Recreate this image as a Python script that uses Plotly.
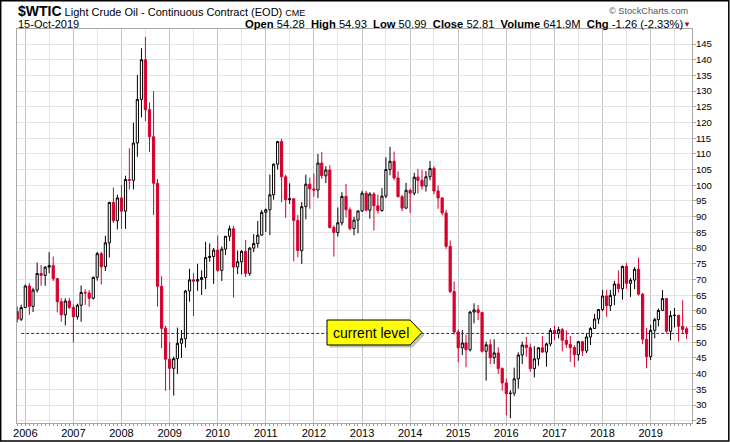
import pandas as pd
import plotly.graph_objects as go

# monthly OHLC, $WTIC continuous contract, Nov 2005 .. Oct 2019
opens = [
    59.76, 57.32,
    61.04, 67.92, 61.41, 66.63, 71.88, 71.29, 73.93, 74.40, 70.26, 62.91, 58.73, 63.13,
    61.05, 58.14, 61.79, 65.87, 65.71, 64.01, 70.68, 78.21, 74.04, 81.66, 94.53, 88.71,
    95.98, 91.75, 101.84, 101.58, 113.46, 127.35, 140.00, 124.08, 115.46, 100.64, 67.81, 54.43,
    44.60, 41.68, 44.76, 49.66, 51.12, 66.31, 69.89, 69.45, 69.96, 70.61, 77.00, 77.28,
    79.36, 72.89, 79.66, 83.76, 86.15, 73.97, 75.63, 78.95, 71.92, 79.97, 81.43, 84.11,
    91.38, 92.19, 96.97, 106.72, 113.93, 102.70, 95.42, 95.70, 88.81, 79.20, 93.19, 100.36,
    98.83, 98.48, 107.07, 103.02, 104.87, 86.53, 84.96, 88.06, 96.47, 92.19, 86.24, 88.91,
    91.82, 97.49, 92.05, 97.23, 93.46, 91.97, 96.56, 105.03, 107.65, 102.33, 96.38, 92.72,
    98.42, 97.49, 102.59, 101.58, 99.74, 102.71, 105.37, 98.17, 95.96, 91.16, 80.54, 66.15,
    53.27, 48.24, 49.76, 47.60, 59.63, 60.30, 59.47, 47.12, 49.20, 45.09, 46.59, 41.65,
    37.04, 33.62, 33.75, 38.34, 45.92, 49.10, 48.33, 41.60, 44.70, 48.24, 46.86, 49.44,
    53.72, 52.81, 54.01, 50.60, 49.33, 48.32, 46.04, 50.17, 47.23, 51.67, 54.38, 57.40,
    60.42, 64.73, 61.64, 64.94, 68.57, 67.04, 74.15, 68.76, 69.80, 73.25, 65.31, 50.93,
    45.41, 53.79, 57.22, 60.14, 63.91, 53.50, 58.47, 58.58, 55.10, 54.28,
]
highs = [
    61.36, 61.94,
    68.35, 68.89, 67.40, 75.35, 74.61, 74.25, 78.70, 77.30, 70.50, 64.10, 64.00, 64.15,
    62.00, 62.30, 68.09, 66.90, 66.60, 70.90, 78.77, 78.80, 83.90, 94.74, 99.29, 97.00,
    100.09, 103.05, 111.80, 119.93, 135.09, 143.67, 147.27, 126.40, 130.00, 102.00, 71.00, 55.20,
    50.00, 45.40, 54.66, 53.90, 66.65, 73.38, 71.98, 75.00, 72.91, 82.00, 81.48, 80.00,
    83.95, 80.51, 83.85, 87.15, 87.00, 79.22, 79.34, 82.50, 80.33, 84.44, 88.63, 92.06,
    92.58, 103.41, 106.95, 114.00, 114.83, 103.40, 100.62, 95.90, 90.52, 94.65, 103.37, 102.44,
    103.74, 109.95, 110.55, 106.06, 106.43, 87.20, 92.94, 97.80, 100.42, 92.99, 89.98, 91.92,
    98.24, 98.24, 97.80, 97.80, 97.00, 99.10, 108.93, 112.24, 110.74, 104.44, 96.94, 100.75,
    98.80, 104.00, 105.22, 104.99, 104.52, 107.73, 106.07, 99.86, 96.16, 92.21, 82.41, 69.36,
    54.00, 53.90, 52.48, 59.90, 62.40, 61.88, 59.78, 50.20, 50.90, 50.92, 48.36, 42.02,
    38.39, 34.69, 41.90, 46.78, 50.21, 51.67, 49.59, 48.75, 48.34, 51.93, 49.90, 54.51,
    55.24, 54.94, 54.55, 53.76, 52.00, 49.03, 50.43, 50.40, 52.86, 54.84, 59.05, 60.51,
    66.66, 66.66, 66.66, 69.56, 72.90, 74.46, 75.27, 70.41, 73.91, 76.90, 65.72, 54.55,
    55.55, 57.81, 60.73, 66.60, 64.00, 59.96, 60.94, 58.76, 63.38, 54.93,
]
lows = [
    56.30, 56.75,
    60.90, 58.70, 59.60, 65.80, 68.00, 68.00, 72.00, 69.50, 59.52, 56.55, 55.35, 60.60,
    49.90, 57.20, 56.50, 61.90, 61.30, 63.60, 69.60, 68.40, 72.70, 77.00, 88.00, 85.90,
    86.11, 86.10, 98.65, 98.65, 109.10, 121.61, 120.42, 110.60, 90.51, 61.30, 48.10, 34.50,
    34.80, 33.00, 39.90, 45.00, 48.30, 62.90, 58.32, 66.40, 65.05, 66.88, 75.60, 68.59,
    72.43, 69.50, 77.75, 82.27, 64.24, 71.70, 71.60, 70.76, 71.10, 78.72, 80.07, 84.00,
    85.11, 84.10, 95.40, 105.00, 94.63, 89.61, 94.00, 75.71, 77.11, 74.95, 89.17, 92.52,
    96.36, 95.90, 102.05, 100.68, 86.20, 77.28, 83.65, 87.20, 89.72, 85.60, 84.05, 84.70,
    91.50, 91.70, 89.33, 85.61, 91.00, 91.60, 95.90, 103.20, 101.60, 96.10, 91.77, 92.50,
    91.24, 96.80, 97.37, 98.60, 98.00, 101.60, 97.10, 92.50, 90.43, 79.78, 65.69, 52.44,
    43.60, 45.90, 42.03, 47.05, 56.00, 57.00, 46.70, 37.75, 43.00, 43.10, 39.93, 34.53,
    26.70, 25.80, 32.80, 35.24, 43.03, 45.40, 40.57, 38.80, 42.52, 46.63, 42.20, 48.70,
    50.71, 51.22, 47.09, 48.18, 43.76, 42.05, 44.10, 45.58, 46.56, 49.10, 54.20, 55.82,
    59.90, 58.07, 59.95, 61.84, 65.80, 63.59, 67.03, 64.43, 66.92, 64.86, 49.41, 41.70,
    44.35, 51.23, 55.06, 59.95, 53.04, 50.60, 54.70, 50.20, 52.80, 50.99,
]
closes = [
    57.32, 61.04,
    67.92, 61.41, 66.63, 71.88, 71.29, 73.93, 74.40, 70.26, 62.91, 58.73, 63.13, 61.05,
    58.14, 61.79, 65.87, 65.71, 64.01, 70.68, 78.21, 74.04, 81.66, 94.53, 88.71, 95.98,
    91.75, 101.84, 101.58, 113.46, 127.35, 140.00, 124.08, 115.46, 100.64, 67.81, 54.43, 44.60,
    41.68, 44.76, 49.66, 51.12, 66.31, 69.89, 69.45, 69.96, 70.61, 77.00, 77.28, 79.36,
    72.89, 79.66, 83.76, 86.15, 73.97, 75.63, 78.95, 71.92, 79.97, 81.43, 84.11, 91.38,
    92.19, 96.97, 106.72, 113.93, 102.70, 95.42, 95.70, 88.81, 79.20, 93.19, 100.36, 98.83,
    98.48, 107.07, 103.02, 104.87, 86.53, 84.96, 88.06, 96.47, 92.19, 86.24, 88.91, 91.82,
    97.49, 92.05, 97.23, 93.46, 91.97, 96.56, 105.03, 107.65, 102.33, 96.38, 92.72, 98.42,
    97.49, 102.59, 101.58, 99.74, 102.71, 105.37, 98.17, 95.96, 91.16, 80.54, 66.15, 53.27,
    48.24, 49.76, 47.60, 59.63, 60.30, 59.47, 47.12, 49.20, 45.09, 46.59, 41.65, 37.04,
    33.62, 33.75, 38.34, 45.92, 49.10, 48.33, 41.60, 44.70, 48.24, 46.86, 49.44, 53.72,
    52.81, 54.01, 50.60, 49.33, 48.32, 46.04, 50.17, 47.23, 51.67, 54.38, 57.40, 60.42,
    64.73, 61.64, 64.94, 68.57, 67.04, 74.15, 68.76, 69.80, 73.25, 65.31, 50.93, 45.41,
    53.79, 57.22, 60.14, 63.91, 53.50, 58.47, 58.58, 55.10, 54.07, 52.81,
]
volume_text = "641.9M"
last_date_text = "15-Oct-2019"

months = pd.date_range("2005-11-01", periods=len(closes), freq="MS")

RED = "#d6002f"
BLUE = "#1a1ad6"
FONT = "Liberation Sans, Arial, sans-serif"
x_range = ["2005-10-30", "2019-11-11"]

# plot area in pixels (for placing the header and the callout)
L, R, T, B = 17, 692, 29, 423
def px(x):
    return (x - L) / (R - L)
def py(y):
    return (B - y) / (B - T)

fig = go.Figure()

# dashed "current level" line at the last close
fig.add_trace(go.Scatter(x=[months[1], months[-1]], y=[closes[-1], closes[-1]],
                         mode="lines", line=dict(color=BLUE, width=1, dash="3px,2px"),
                         hoverinfo="skip"))

fig.add_trace(go.Candlestick(x=months, open=opens, high=highs, low=lows, close=closes,
                             increasing=dict(line=dict(color="black", width=1), fillcolor="white"),
                             decreasing=dict(line=dict(color=RED, width=1), fillcolor=RED),
                             whiskerwidth=0))

# empty trace only to carry the monthly tick axis
fig.add_trace(go.Scatter(x=[months[0]], y=[closes[0]], xaxis="x2", mode="markers",
                         marker=dict(opacity=0), hoverinfo="skip"))

# header texts
last_chg = closes[-1] - closes[-2]
last_pct = last_chg / closes[-2] * 100
nb = "\u00a0"
header = (f"<b>Open</b> {opens[-1]:.2f}{nb}{nb}<b>High</b> {highs[-1]:.2f}{nb}{nb}"
          f"<b>Low</b> {lows[-1]:.2f}{nb}{nb}<b>Close</b> {closes[-1]:.2f}{nb}{nb}"
          f"<b>Volume</b> {volume_text}{nb}{nb}<b>Chg</b> {last_chg:.2f} ({last_pct:.2f}%)")

annotations = [
    dict(text="<span style='font-size:14px'><b>$WTIC</b></span> Light Crude Oil - Continuous Contract (EOD) "
              "<span style='font-size:9px'>CME</span>",
         x=px(16), y=py(11), xanchor="left", yanchor="middle", font=dict(size=11)),
    dict(text=last_date_text, x=px(16), y=py(24.5), xanchor="left", yanchor="middle",
         font=dict(size=11)),
    dict(text=header, x=px(685), y=py(24.5), xanchor="right", yanchor="middle",
         font=dict(size=11.2)),
    dict(text="\u25bc", x=px(680.5), y=py(24.5), xanchor="left", yanchor="middle",
         font=dict(size=8, color="#a0102a")),
    dict(text="\u00a9 StockCharts.com", x=px(691), y=py(11), xanchor="right", yanchor="middle",
         font=dict(size=9.2, color="#555555")),
    dict(text="current level", x=px(371), y=py(332.5), xanchor="center", yanchor="middle",
         font=dict(size=14, color="black")),
]
for a in annotations:
    a.update(xref="paper", yref="paper", showarrow=False)

def callout(dx, dy):
    pts = [(327, 320), (410, 320), (422, 332.5), (410, 345), (327, 345)]
    return "M " + " L ".join(f"{px(x + dx):.5f},{py(y + dy):.5f}" for x, y in pts) + " Z"

shapes = [
    dict(type="path", path=callout(2.5, 2.5), fillcolor="rgba(120,120,120,0.45)",
         line=dict(width=0)),
    dict(type="path", path=callout(0, 0), fillcolor="#ffff00", line=dict(color="black", width=1)),
    dict(type="rect", x0=px(0.7), x1=px(728.8), y0=py(441), y1=py(0.7),
         line=dict(color="black", width=1.5)),
]
for s in shapes:
    s.update(xref="paper", yref="paper")

fig.update_layout(
    width=730, height=442,
    margin=dict(l=L, r=730 - R, t=T, b=442 - B, autoexpand=False),
    paper_bgcolor="white", plot_bgcolor="white",
    font=dict(family=FONT, size=11, color="black"),
    showlegend=False, boxgap=0.15,
    annotations=annotations, shapes=shapes,
    xaxis=dict(type="date", range=x_range, rangeslider=dict(visible=False),
               dtick="M12", tick0="2006-01-01", tickformat="%Y", ticks="",
               showgrid=True, gridcolor="#c4c4c4", gridwidth=1,
               minor=dict(dtick="M6", showgrid=True, gridcolor="#e4e4e4", ticks=""),
               showline=True, mirror=True, linecolor="#a8a8a8", linewidth=1,
               tickfont=dict(size=11), zeroline=False, automargin=False),
    xaxis2=dict(type="date", range=x_range, overlaying="x", anchor="y", side="bottom",
                dtick="M1", tick0="2006-01-01", ticks="outside", ticklen=2,
                tickcolor="#9a9a9a", showticklabels=False, showgrid=False, zeroline=False,
                automargin=False),
    yaxis=dict(side="right", range=[24.27, 149.78], dtick=5, tick0=25,
               ticks="outside", ticklen=3, tickcolor="#a8a8a8", ticklabelstandoff=-2,
               showgrid=True, gridcolor="#e4e4e4", gridwidth=1,
               showline=True, mirror=True, linecolor="#a8a8a8", linewidth=1,
               tickfont=dict(size=9.6), zeroline=False, automargin=False),
)

# the page is exactly the size of the figure
fig.write_html("out.html", config={"displayModeBar": False},
               post_script="document.body.style.margin = '0px';")
